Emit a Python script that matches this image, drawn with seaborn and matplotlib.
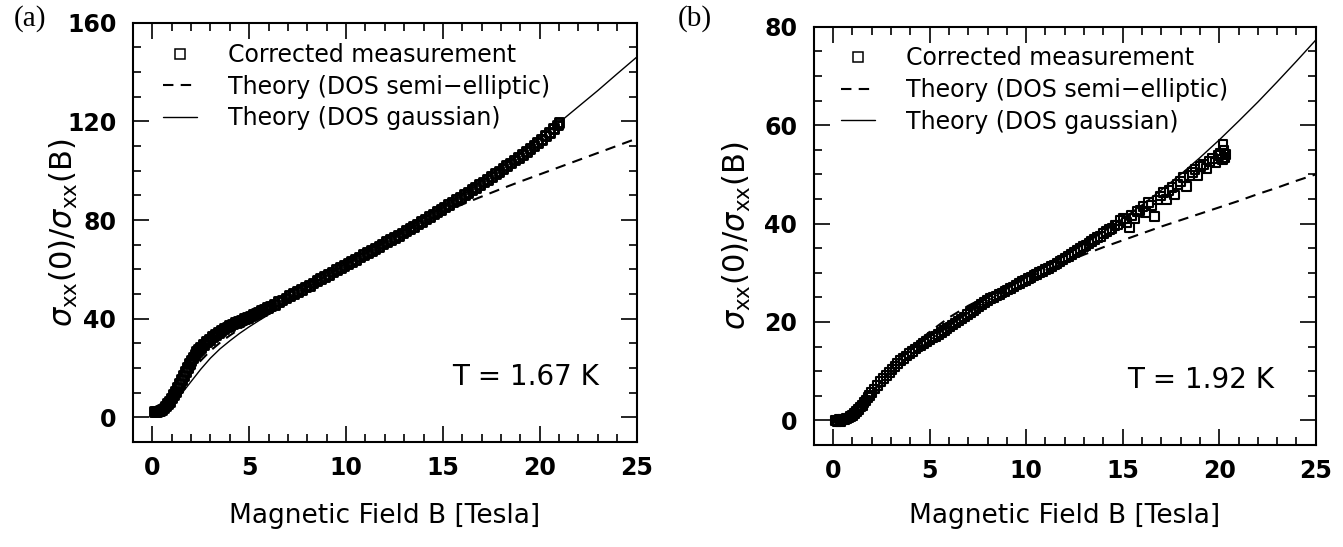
import matplotlib
matplotlib.use("Agg")
import matplotlib.pyplot as plt
import seaborn as sns
from matplotlib.lines import Line2D
from matplotlib.ticker import MultipleLocator

# ---------------- data: panel (a), T = 1.67 K ----------------
B_meas_a = [0.10, 0.20, 0.30, 0.40, 0.50, 0.60, 0.70, 0.80, 0.90, 1.00, 1.10, 1.20, 1.30, 1.40,
            1.50, 1.60, 1.70, 1.80, 1.90, 2.00, 2.10, 2.20, 2.30, 2.40, 2.50, 2.65, 2.80, 2.95,
            3.10, 3.25, 3.40, 3.55, 3.70, 3.85, 4.00, 4.15, 4.30, 4.45, 4.60, 4.75, 4.90, 5.05,
            5.20, 5.35, 5.50, 5.65, 5.80, 5.95, 6.10, 6.30, 6.50, 6.70, 6.90, 7.10, 7.30, 7.50,
            7.70, 7.90, 8.10, 8.30, 8.50, 8.70, 8.90, 9.10, 9.30, 9.50, 9.70, 9.90, 10.10, 10.30,
            10.50, 10.70, 10.90, 11.10, 11.30, 11.50, 11.70, 11.90, 12.10, 12.30, 12.50, 12.70,
            12.90, 13.10, 13.30, 13.50, 13.70, 13.90, 14.10, 14.30, 14.50, 14.70, 14.90, 15.10,
            15.30, 15.50, 15.70, 15.90, 16.10, 16.30, 16.50, 16.70, 16.90, 17.10, 17.30, 17.50,
            17.70, 17.90, 18.10, 18.30, 18.50, 18.70, 18.90, 19.10, 19.30, 19.50, 19.70, 19.90,
            20.10, 20.30, 20.50, 20.70, 20.90, 21.00]
R_meas_a = [2.4, 2.4, 2.6, 2.9, 3.3, 3.8, 4.6, 5.5, 6.5, 7.8, 9.1, 10.6, 12.0, 13.6,
            15.2, 17.0, 18.6, 20.2, 21.7, 23.1, 24.4, 25.6, 26.6, 27.6, 28.4, 29.6, 30.7, 31.7,
            32.7, 33.5, 34.4, 35.1, 35.9, 36.6, 37.2, 37.8, 38.4, 38.9, 39.5, 40.0, 40.6, 41.1,
            41.6, 42.2, 42.7, 43.3, 43.9, 44.5, 45.1, 45.9, 46.8, 47.6, 48.4, 49.3, 50.2, 51.0,
            51.9, 52.8, 53.6, 54.5, 55.4, 56.2, 57.1, 58.0, 58.9, 59.8, 60.6, 61.5, 62.4, 63.3,
            64.1, 65.0, 65.9, 66.8, 67.6, 68.5, 69.4, 70.3, 71.2, 72.0, 72.9, 73.8,
            74.7, 75.6, 76.6, 77.5, 78.4, 79.4, 80.4, 81.4, 82.4, 83.3, 84.3, 85.3,
            86.3, 87.3, 88.2, 89.2, 90.2, 91.2, 92.3, 93.3, 94.3, 95.4, 96.5, 97.6,
            98.7, 99.8, 100.9, 102.0, 103.1, 104.3, 105.4, 106.6, 107.8, 109.0, 110.2, 111.5,
            112.8, 114.2, 115.6, 117.0, 118.5, 119.5]

B_theo_a = [0, 0.5, 1, 1.5, 2, 2.5, 3, 3.5, 4, 4.5, 5, 5.5, 6, 6.5, 7, 7.5, 8, 9, 10, 11, 12,
            13, 14, 15, 16, 17, 18, 19, 20, 21, 22, 23, 24, 25]
semi_a = [2.3, 3.4, 6.8, 12.0, 18.0, 23.0, 27.0, 30.3, 33.2, 35.8, 38.3, 40.6, 43.0, 45.4,
          47.9, 50.4, 53.0, 57.6, 62.1, 66.5, 70.9, 75.2, 79.3, 83.0, 86.3, 89.5, 92.6, 95.6,
          98.5, 101.4, 104.3, 107.2, 110.1, 113.0]
gauss_a = [2.3, 3.2, 5.5, 9.5, 14.5, 19.5, 24.0, 27.8, 31.0, 34.0, 36.7, 39.2, 41.6, 44.0,
           46.5, 49.5, 52.5, 57.5, 62.4, 67.0, 71.6, 75.6, 80.5, 85.0, 90.0, 95.4, 101.0,
           107.0, 113.0, 119.5, 126.0, 132.5, 139.3, 146.0]

# ---------------- data: panel (b), T = 1.92 K ----------------
B_meas_b = [0.10, 0.20, 0.30, 0.40, 0.50, 0.60, 0.70, 0.80, 0.90, 1.00, 1.10, 1.20, 1.30, 1.40,
            1.50, 1.60, 1.70, 1.80, 1.90, 2.00, 2.15, 2.30, 2.45, 2.60, 2.75, 2.90, 3.05, 3.20,
            3.35, 3.50, 3.65, 3.80, 3.95, 4.10, 4.25, 4.40, 4.55, 4.70, 4.85, 5.00, 5.15, 5.30,
            5.45, 5.60, 5.75, 5.90, 6.05, 6.20, 6.35, 6.50, 6.65, 6.80, 6.95, 7.10, 7.25, 7.40,
            7.55, 7.70, 7.85, 8.00, 8.15, 8.30, 8.45, 8.60, 8.75, 8.90, 9.05, 9.20, 9.35, 9.50,
            9.65, 9.80, 9.95, 10.10, 10.25, 10.40, 10.55, 10.70, 10.85, 11.00, 11.15, 11.30,
            11.45, 11.60, 11.75, 11.90, 12.05, 12.20, 12.35, 12.50, 12.65, 12.80, 12.95, 13.10,
            13.25, 13.40, 13.55, 13.70, 13.85, 14.00, 14.15, 14.30, 14.45, 14.60, 14.75, 14.90,
            15.05, 15.20, 15.35, 15.45, 15.60, 15.75, 15.90, 16.05, 16.20, 16.35, 16.50, 16.65,
            16.80, 16.95, 17.10, 17.25, 17.40, 17.55, 17.70, 17.85, 18.00, 18.15, 18.30, 18.45,
            18.60, 18.75, 18.90, 19.05, 19.20, 19.35, 19.50, 19.65, 19.80, 19.95, 20.05, 20.15,
            20.20, 20.25, 20.30, 20.35]
R_meas_b = [0.0, -0.3, 0.3, -0.2, 0.2, 0.1, 0.4, 0.5, 0.8, 1.0, 1.4, 1.8, 2.2, 2.7,
            3.1, 3.6, 4.1, 4.6, 5.1, 5.6, 6.4, 7.1, 7.9, 8.5, 9.2, 9.8, 10.4, 11.0,
            11.6, 12.1, 12.6, 13.1, 13.6, 14.0, 14.5, 14.9, 15.3, 15.7, 16.0, 16.4, 16.8, 17.1,
            17.5, 17.9, 18.2, 18.6, 19.0, 19.4, 19.8, 20.2, 20.6, 21.0, 21.5, 21.9, 22.3, 22.8,
            23.2, 23.6, 24.0, 24.4, 24.7, 25.0, 25.3, 25.6, 25.9, 26.2, 26.5, 26.8, 27.1, 27.5,
            27.8, 28.2, 28.5, 28.8, 29.1, 29.4, 29.7, 30.0, 30.3, 30.6, 30.9, 31.2,
            31.6, 31.9, 32.3, 32.6, 33.0, 33.3, 33.7, 34.2, 34.6, 35.0, 35.4, 35.6,
            36.0, 36.3, 36.7, 37.2, 37.4, 38.0, 38.4, 38.8, 39.0, 39.6, 39.7, 40.6,
            41.0, 40.3, 39.2, 41.6, 41.0, 42.4, 42.7, 43.4, 42.2, 44.3, 43.6, 41.5,
            44.8, 45.6, 46.3, 44.9, 46.8, 47.4, 45.8, 47.9, 48.6, 49.3, 47.6, 49.8,
            50.4, 51.0, 49.7, 51.6, 52.0, 51.2, 52.7, 53.2, 52.4, 53.8, 54.3, 53.0,
            56.0, 54.8, 53.4, 54.0]

B_theo_b = [0, 0.5, 1, 1.5, 2, 2.5, 3, 3.5, 4, 5, 6, 7, 8, 9, 10, 11, 12, 13, 14, 15, 16, 17,
            18, 19, 20, 21, 22, 23, 24, 25]
semi_b = [0.0, 0.3, 1.2, 3.0, 5.4, 8.0, 10.4, 12.6, 14.6, 18.0, 20.9, 23.3, 25.3, 27.1,
          28.8, 30.5, 32.1, 33.7, 35.2, 36.6, 38.0, 39.4, 40.7, 42.0, 43.3, 44.6, 46.0, 47.3,
          48.7, 50.0]
gauss_b = [0.0, 0.2, 0.9, 2.5, 4.6, 7.0, 9.3, 11.4, 13.2, 16.3, 19.1, 21.8, 24.3, 26.7,
           29.0, 31.2, 33.4, 35.8, 38.3, 41.0, 43.8, 46.8, 50.0, 53.4, 57.0, 60.8, 64.7,
           68.8, 73.0, 77.3]

legend_labels = ["Corrected measurement", "Theory (DOS semi\u2212elliptic)", "Theory (DOS gaussian)"]
temp_labels = ["T = 1.67 K", "T = 1.92 K"]
panel_labels = ["(a)", "(b)"]
xlabel = "Magnetic Field B [Tesla]"
ylabel = r"$\sigma_{\rm xx}(0)/\sigma_{\rm xx}(\rm B)$"

# ---------------- style ----------------
sns.set_theme(style="ticks")
plt.rcParams["font.family"] = ["DejaVu Sans"]
plt.rcParams["mathtext.fontset"] = "dejavusans"
plt.rcParams["text.color"] = "black"
plt.rcParams["axes.labelcolor"] = "black"
plt.rcParams["xtick.color"] = "black"
plt.rcParams["ytick.color"] = "black"

fig = plt.figure(figsize=(13.43, 5.47), dpi=100)
ax_a = fig.add_axes([0.099, 0.192, 0.375, 0.7665])
ax_b = fig.add_axes([0.606, 0.1865, 0.3737, 0.7645])

panels = [
    (ax_a, B_meas_a, R_meas_a, B_theo_a, semi_a, gauss_a, (-10, 160), 40, 10, 2.1, 40,
     (0.0595, 0.952), 0.925, -0.105, 0.145),
    (ax_b, B_meas_b, R_meas_b, B_theo_b, semi_b, gauss_b, (-5, 80), 20, 5, 1.5, 40,
     (0.055, 0.954), 0.918, -0.122, 0.139),
]

for i, (ax, bm, rm, bt, ys, yg, ylim, ymaj, ymin, mlw, msz, leg_anchor, tx, ylx, xly) in enumerate(panels):
    sns.lineplot(x=bt, y=yg, ax=ax, color="black", lw=1.0, estimator=None, sort=False)
    sns.lineplot(x=bt, y=ys, ax=ax, color="black", lw=1.5, estimator=None, sort=False)
    ax.lines[-1].set_dashes((5, 3.5))
    sns.scatterplot(x=bm, y=rm, ax=ax, marker="s", s=msz, facecolors="none",
                    edgecolors="black", linewidths=mlw, zorder=3)

    ax.set_xlim(-1, 25)
    ax.set_ylim(*ylim)
    ax.xaxis.set_major_locator(MultipleLocator(5))
    ax.xaxis.set_minor_locator(MultipleLocator(1))
    ax.yaxis.set_major_locator(MultipleLocator(ymaj))
    ax.yaxis.set_minor_locator(MultipleLocator(ymin))
    ax.tick_params(which="both", direction="in", top=True, right=True, width=1.2,
                   colors="black", labelsize=17)
    ax.tick_params(which="major", length=11.5)
    ax.tick_params(axis="x", which="major", pad=10)
    ax.tick_params(axis="y", which="major", pad=12)
    ax.tick_params(which="minor", length=5.5)
    for sp in ax.spines.values():
        sp.set_linewidth(1.5)
        sp.set_color("black")
    for lab in ax.get_xticklabels() + ax.get_yticklabels():
        lab.set_fontweight("bold")

    ax.set_xlabel(xlabel, fontsize=19, color="black")
    ax.set_ylabel(ylabel, fontsize=22, color="black")
    ax.yaxis.set_label_coords(ylx, 0.5)
    ax.xaxis.set_label_coords(0.5, -xly)

    handles = [
        Line2D([], [], ls="none", marker="s", ms=7.5, mfc="none", mec="black", mew=1.1),
        Line2D([], [], color="black", lw=1.5, dashes=(5, 3.5)),
        Line2D([], [], color="black", lw=1.0),
    ]
    leg = ax.legend(handles, legend_labels, loc="upper left", bbox_to_anchor=leg_anchor,
                    frameon=False, fontsize=17, handlelength=1.44, handletextpad=1.31,
                    labelspacing=0.33, borderaxespad=0.0, borderpad=0.0)
    for t in leg.get_texts():
        t.set_color("black")

    ax.text(tx, 0.155, temp_labels[i], transform=ax.transAxes,
            ha="right", va="center", fontsize=20, color="black")

fig.text(30 / 1343, 1 - 19 / 547, panel_labels[0], family="Liberation Serif", fontsize=21,
         ha="center", va="center", color="black")
fig.text(695 / 1343, 1 - 19 / 547, panel_labels[1], family="Liberation Serif", fontsize=21,
         ha="center", va="center", color="black")

fig.savefig("out.png", dpi=100, facecolor="white")
